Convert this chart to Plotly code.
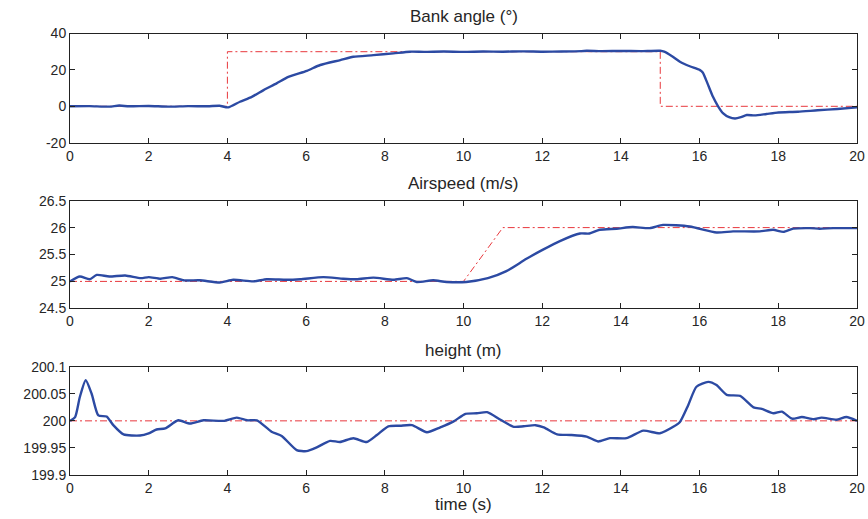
import plotly.graph_objects as go

# ---------------- data ----------------
bank_t = [0, 0.5, 1.0, 1.25, 1.5, 2.0, 2.5, 3.0, 3.5, 3.8, 4.02, 4.32, 4.62, 4.92, 5.25, 5.55,
          6.02, 6.36, 6.87, 7.2, 7.71, 8.22, 8.64, 9.0, 9.5, 10.0, 10.5, 11.0, 11.5, 12.0, 12.5,
          13.0, 13.13, 13.5, 14.0, 14.5, 15.0, 15.1, 15.3, 15.5, 15.75, 16.0, 16.08, 16.2, 16.34,
          16.47, 16.6, 16.75, 16.9, 17.05, 17.2, 17.4, 17.7, 18.0, 18.5, 19.0, 19.5, 20.0]
bank_y = [0, 0.1, -0.2, 0.4, 0.0, 0.2, -0.2, 0.1, 0.0, 0.3, -0.6, 2.5, 5.2, 8.9, 12.6, 16.2,
          19.5, 22.7, 25.4, 27.2, 28.1, 29.1, 30.0, 29.9, 30.1, 29.9, 30.1, 30.0, 30.2, 30.0, 30.1,
          30.3, 30.5, 30.3, 30.4, 30.3, 30.5, 30.0, 27.5, 24.5, 22.0, 20.0, 18.6, 12.6, 5.2,
          0.0, -3.9, -6.0, -6.7, -6.0, -4.8, -5.0, -4.2, -3.4, -3.0, -2.2, -1.5, -0.6]
bank_ref_t = [0, 4, 4, 15, 15, 20]
bank_ref_y = [0, 0, 30, 30, 0, 0]

air_t = [0, 0.25, 0.5, 0.68, 1.0, 1.4, 1.8, 2.0, 2.3, 2.6, 2.9, 3.3, 3.81, 4.15, 4.66, 5.0,
         5.5, 5.85, 6.44, 6.94, 7.28, 7.71, 8.22, 8.56, 8.81, 9.23, 9.57, 10.07, 10.62, 11.09,
         11.6, 12.02, 12.45, 12.96, 13.2, 13.46, 13.89, 14.3, 14.73, 15.07, 15.75, 16.43, 16.85,
         17.53, 17.87, 18.13, 18.38, 18.8, 19.05, 19.4, 20.0]
air_y = [25.0, 25.09, 25.04, 25.12, 25.09, 25.11, 25.06, 25.08, 25.05, 25.08, 25.02, 25.02,
         24.98, 25.03, 25.0, 25.04, 25.03, 25.04, 25.08, 25.05, 25.04, 25.07, 25.03, 25.06,
         24.99, 25.02, 24.99, 24.99, 25.06, 25.19, 25.42, 25.59, 25.75, 25.89, 25.89, 25.96,
         25.98, 26.01, 25.99, 26.05, 26.02, 25.91, 25.93, 25.93, 25.96, 25.92, 25.98, 25.99,
         25.98, 25.99, 25.99]
air_ref_t = [0, 10, 11, 20]
air_ref_y = [25, 25, 26, 26]

h_t = [0, 0.13, 0.25, 0.4, 0.55, 0.72, 0.93, 1.1, 1.36, 1.78, 2.0, 2.2, 2.42, 2.75, 3.05,
       3.39, 3.9, 4.24, 4.5, 4.75, 5.12, 5.38, 5.76, 6.01, 6.27, 6.61, 6.86, 7.2, 7.54, 7.8,
       8.09, 8.39, 8.69, 9.07, 9.41, 9.75, 10.05, 10.34, 10.6, 10.94, 11.28, 11.53, 11.83,
       12.04, 12.38, 12.72, 13.13, 13.42, 13.72, 14.14, 14.57, 14.99, 15.33, 15.5, 15.71,
       15.92, 16.22, 16.43, 16.69, 17.03, 17.37, 17.58, 17.88, 18.09, 18.35, 18.6, 18.9,
       19.1, 19.48, 19.73, 20.0]
h_y = [200.0, 200.007, 200.044, 200.075, 200.05, 200.01, 200.008, 199.992, 199.975, 199.973,
       199.977, 199.984, 199.986, 200.001, 199.995, 200.001, 200.0, 200.006, 200.001, 200.001,
       199.98, 199.972, 199.946, 199.944, 199.951, 199.963, 199.961, 199.968, 199.961, 199.974,
       199.99, 199.991, 199.992, 199.979, 199.988, 199.999, 200.013, 200.014, 200.016, 200.002,
       199.989, 199.99, 199.992, 199.988, 199.975, 199.974, 199.971, 199.962, 199.968, 199.968,
       199.982, 199.977, 199.989, 199.998, 200.029, 200.063, 200.072, 200.066, 200.048, 200.046,
       200.025, 200.022, 200.014, 200.017, 200.004, 200.007, 200.003, 200.006, 200.002, 200.007,
       200.0]
h_ref_t = [0, 20]
h_ref_y = [200, 200]

x_ticks = [0, 2, 4, 6, 8, 10, 12, 14, 16, 18, 20]
bank_ticks = [-20, 0, 20, 40]
air_ticks = [24.5, 25, 25.5, 26, 26.5]
air_labels = ["24.5", "25", "25.5", "26", "26.5"]
h_ticks = [199.9, 199.95, 200, 200.05, 200.1]
h_labels = ["199.9", "199.95", "200", "200.05", "200.1"]
titles = ["Bank angle (°)", "Airspeed (m/s)", "height (m)"]
xlabel = "time (s)"

# ---------------- figure ----------------
W, H = 868, 519
BLUE = "#2c4aa3"
RED = "#e8383d"
FONT = "Liberation Sans, Arial, Helvetica, sans-serif"
TXT = "#262626"

fig = go.Figure()
panels = [
    (bank_t, bank_y, bank_ref_t, bank_ref_y, "", ""),
    (air_t, air_y, air_ref_t, air_ref_y, "2", "2"),
    (h_t, h_y, h_ref_t, h_ref_y, "3", "3"),
]
for t, y, rt, ry, xs, ys in panels:
    fig.add_trace(go.Scatter(x=rt, y=ry, mode="lines", xaxis="x" + xs, yaxis="y" + ys,
                             line=dict(color=RED, width=1, dash="7px,3px,2px,3px"),
                             showlegend=False))
    fig.add_trace(go.Scatter(x=t, y=y, mode="lines", xaxis="x" + xs, yaxis="y" + ys,
                             line=dict(color=BLUE, width=2.4, shape="spline", smoothing=0.6),
                             showlegend=False))

def px_dom(top, bottom):
    return [1 - bottom / H, 1 - top / H]

xdom = [70 / W, 857 / W]
ydoms = [px_dom(33.5, 142.7), px_dom(200.7, 308.3), px_dom(366.7, 475)]
yranges = [[-20, 40], [24.5, 26.5], [199.9, 200.1]]
yticks = [(bank_ticks, [str(v) for v in bank_ticks]), (air_ticks, air_labels), (h_ticks, h_labels)]

common = dict(showline=True, linecolor="#222", linewidth=1, mirror="ticks", ticks="inside",
              ticklen=5, tickcolor="#222", showgrid=False, zeroline=False, automargin=False,
              tickfont=dict(family=FONT, size=14, color=TXT))
layout = dict(width=W, height=H, autosize=False, margin=dict(l=0, r=0, t=0, b=0, pad=0),
              paper_bgcolor="white", plot_bgcolor="white")
for i, suf in enumerate(["", "2", "3"]):
    layout["xaxis" + suf] = dict(domain=xdom, range=[0, 20], tickvals=x_ticks,
                                 anchor="y" + suf, **common)
    layout["yaxis" + suf] = dict(domain=ydoms[i], range=yranges[i], tickvals=yticks[i][0],
                                 ticktext=yticks[i][1], anchor="x" + suf, **common)
fig.update_layout(**layout)

xc = (70 + 857) / 2 / W
for title, ypix in zip(titles, [17, 183, 350]):
    fig.add_annotation(text=title, x=xc, y=1 - ypix / H, xref="paper", yref="paper",
                       showarrow=False, font=dict(family=FONT, size=17, color=TXT),
                       xanchor="center", yanchor="middle")
fig.add_annotation(text=xlabel, x=xc, y=1 - 504 / H, xref="paper", yref="paper",
                   showarrow=False, font=dict(family=FONT, size=17, color=TXT),
                   xanchor="center", yanchor="middle")

fig.write_html("out.html")
